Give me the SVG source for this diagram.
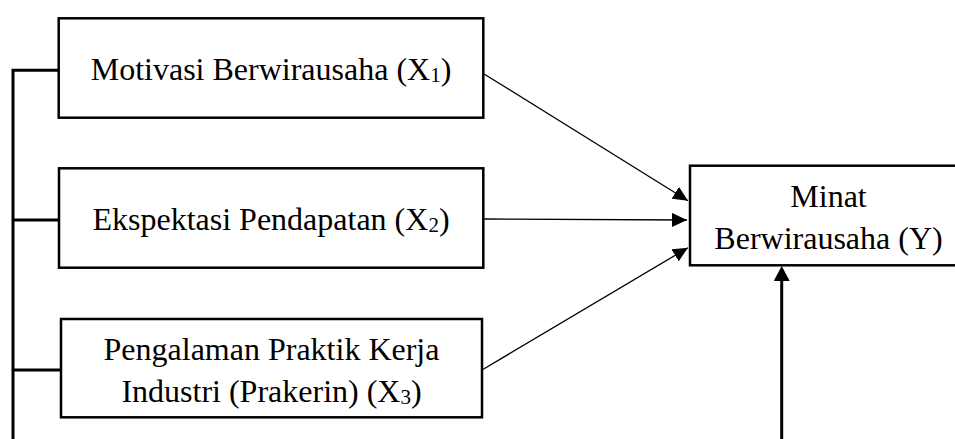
<svg xmlns="http://www.w3.org/2000/svg" width="955" height="439" viewBox="0 0 955 439">
  <style>
    .box { fill: #ffffff; stroke: #000000; stroke-width: 2.5; }
    .lbl { font-family: "Liberation Serif", "Times New Roman", serif; font-size: 32px; fill: #000000; text-anchor: middle; }
    .sub { font-size: 21px; }
    .thin { stroke: #000000; stroke-width: 1.3; fill: none; }
    .thick { stroke: #000000; stroke-width: 3; fill: none; }
  </style>
  <defs>
    <marker id="ah" markerUnits="userSpaceOnUse" markerWidth="16" markerHeight="14" refX="15" refY="7" orient="auto">
      <path d="M0,0 L15,7 L0,14 z" fill="#000000"/>
    </marker>
    <marker id="ahb" markerUnits="userSpaceOnUse" markerWidth="16" markerHeight="16" refX="0" refY="8" orient="auto">
      <path d="M0,0 L15,8 L0,16 z" fill="#000000"/>
    </marker>
  </defs>
  <rect width="955" height="439" fill="#ffffff"/>

  <g id="connectors">
    <polyline class="thick" points="58.7,70.3 13,70.3 13,445"/>
    <line class="thick" x1="13" y1="220" x2="59" y2="220"/>
    <line class="thick" x1="13" y1="370" x2="61" y2="370"/>
    <line class="thin" x1="482" y1="72.7" x2="688" y2="200.7" marker-end="url(#ah)"/>
    <line class="thin" x1="483" y1="219" x2="687" y2="220" marker-end="url(#ah)"/>
    <line class="thin" x1="482" y1="370" x2="688" y2="247.7" marker-end="url(#ah)"/>
    <line class="thick" x1="781.7" y1="445" x2="781.7" y2="281" marker-end="url(#ahb)"/>
  </g>

  <g id="x1">
    <rect class="box" x="58.7" y="18.3" width="424.6" height="99.4"/>
    <text class="lbl" x="271" y="80">Motivasi Berwirausaha (X<tspan class="sub" dy="2">1</tspan><tspan dy="-2">)</tspan></text>
  </g>

  <g id="x2">
    <rect class="box" x="59" y="168.3" width="424.3" height="99.4"/>
    <text class="lbl" x="271" y="230">Ekspektasi Pendapatan (X<tspan class="sub" dy="2">2</tspan><tspan dy="-2">)</tspan></text>
  </g>

  <g id="x3">
    <rect class="box" x="61" y="319" width="421" height="98.3"/>
    <text class="lbl" x="271.5" y="360">Pengalaman Praktik Kerja</text>
    <text class="lbl" x="271.5" y="401.7">Industri (Prakerin) (X<tspan class="sub" dy="2">3</tspan><tspan dy="-2">)</tspan></text>
  </g>

  <g id="y">
    <rect class="box" x="690" y="165.7" width="277" height="99.6"/>
    <text class="lbl" x="828.5" y="207.3">Minat</text>
    <text class="lbl" x="828.5" y="249">Berwirausaha (Y)</text>
  </g>
</svg>
